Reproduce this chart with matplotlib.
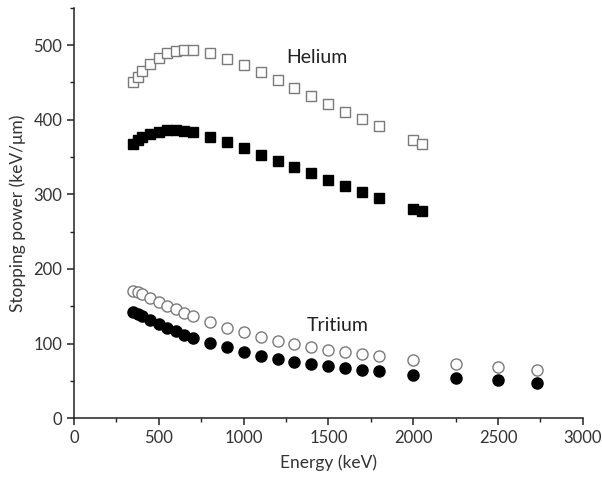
import matplotlib
matplotlib.use("Agg")
import matplotlib.pyplot as plt
from matplotlib.ticker import MultipleLocator

plt.rcParams['font.family'] = ['Lato', 'DejaVu Sans']

# Helium: energies (keV) and stopping power (keV/um)
he_energy = [350, 375, 400, 450, 500, 550, 600, 650, 700, 800, 900, 1000,
             1100, 1200, 1300, 1400, 1500, 1600, 1700, 1800, 2000, 2050]
he_open = [451, 457, 465, 475, 483, 489, 492, 493, 493, 490, 482, 474,
           464, 453, 442, 432, 421, 411, 401, 391, 373, 368]
he_filled = [368, 373, 377, 381, 384, 386, 386, 385, 383, 377, 370, 362,
             353, 345, 336, 328, 319, 311, 303, 295, 280, 278]

# Tritium: energies (keV) and stopping power (keV/um)
tr_energy = [350, 375, 400, 450, 500, 550, 600, 650, 700, 800, 900, 1000,
             1100, 1200, 1300, 1400, 1500, 1600, 1700, 1800, 2000, 2250,
             2500, 2730]
tr_open = [171, 169, 166, 161, 156, 151, 146, 141, 137, 129, 121, 115,
           109, 104, 100, 96, 92, 89, 86, 83, 78, 72, 68, 64]
tr_filled = [142, 139, 137, 131, 126, 121, 117, 112, 108, 101, 95, 89,
             84, 80, 76, 73, 70, 67, 64, 63, 58, 54, 51, 47]

fig = plt.figure(figsize=(6.02, 4.88), dpi=100)
ax = fig.add_axes([0.123, 0.143, 0.845, 0.841])

ax.plot(he_energy, he_open, linestyle='none', marker='s', markersize=7,
        markerfacecolor='white', markeredgecolor='#7a7a7a', markeredgewidth=1.0)
ax.plot(he_energy, he_filled, linestyle='none', marker='s', markersize=7,
        markerfacecolor='black', markeredgecolor='black', markeredgewidth=1.0)
ax.plot(tr_energy, tr_open, linestyle='none', marker='o', markersize=8,
        markerfacecolor='white', markeredgecolor='#7a7a7a', markeredgewidth=1.0)
ax.plot(tr_energy, tr_filled, linestyle='none', marker='o', markersize=8,
        markerfacecolor='black', markeredgecolor='black', markeredgewidth=1.0)

ax.text(1435, 484, 'Helium', fontsize=14, ha='center', va='center', color='#222222')
ax.text(1555, 124, 'Tritium', fontsize=14, ha='center', va='center', color='#222222')

ax.set_xlim(0, 3000)
ax.set_ylim(0, 550)
ax.xaxis.set_major_locator(MultipleLocator(500))
ax.xaxis.set_minor_locator(MultipleLocator(250))
ax.yaxis.set_major_locator(MultipleLocator(100))
ax.yaxis.set_minor_locator(MultipleLocator(50))

for side in ('top', 'right'):
    ax.spines[side].set_visible(False)
for side in ('left', 'bottom'):
    ax.spines[side].set_linewidth(1.1)
    ax.spines[side].set_color('#222222')

ax.tick_params(which='major', direction='out', length=5, width=1.1,
               colors='#222222', labelsize=12, labelcolor='#333333')
ax.tick_params(which='minor', direction='out', length=3, width=1.0, colors='#222222')

ax.set_xlabel('Energy (keV)', fontsize=12.5, color='#333333', labelpad=6)
ax.set_ylabel('Stopping power (keV/\u03bcm)', fontsize=12.5, color='#333333', labelpad=5)

fig.savefig('out.png', dpi=100)
